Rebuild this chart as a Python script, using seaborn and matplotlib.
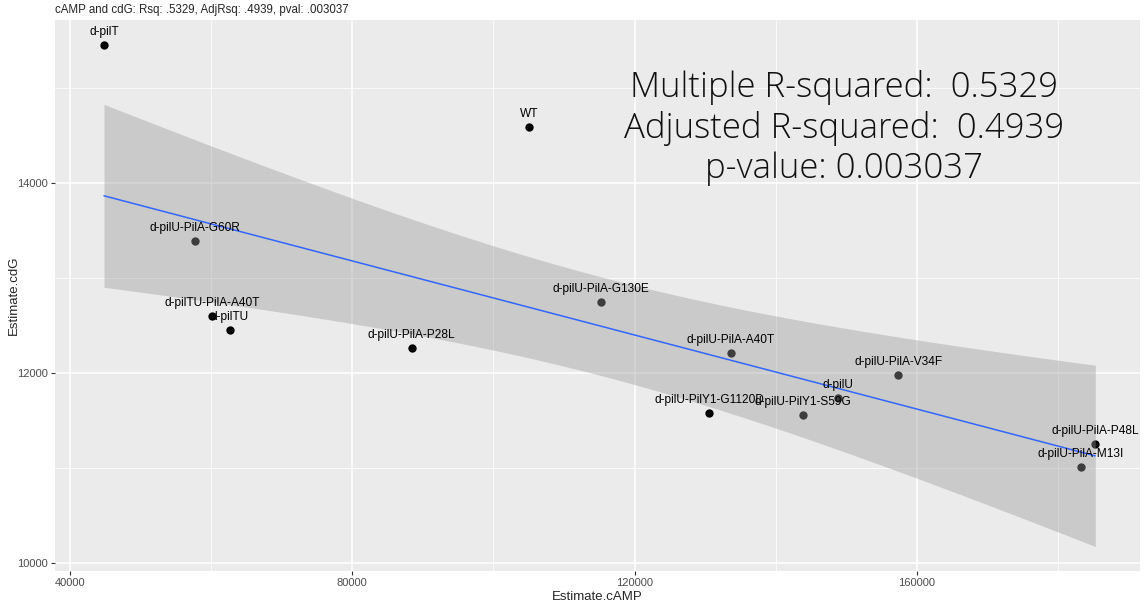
import numpy as np
import pandas as pd
import matplotlib
matplotlib.use("Agg")
import matplotlib.pyplot as plt
import seaborn as sns

# Strain-level estimates
strains = [
    "d-pilT", "WT", "d-pilU-PilA-G60R", "d-pilTU-PilA-A40T", "d-pilTU",
    "d-pilU-PilA-P28L", "d-pilU-PilA-G130E", "d-pilU-PilA-A40T",
    "d-pilU-PilA-V34F", "d-pilU", "d-pilU-PilY1-S59G", "d-pilU-PilY1-G1120D",
    "d-pilU-PilA-P48L", "d-pilU-PilA-M13I",
]
camp = [44805, 105046, 57704, 60156, 62665, 88420, 115293, 133679,
        157364, 148802, 143925, 130603, 185315, 183287]
cdg = [15456, 14596, 13393, 12606, 12453, 12269, 12747, 12217,
       11979, 11743, 11558, 11585, 11259, 11014]

title = "cAMP and cdG: Rsq: .5329, AdjRsq: .4939, pval: .003037"
stats_lines = ["Multiple R-squared:  0.5329",
               "Adjusted R-squared:  0.4939",
               "p-value: 0.003037"]
x_ticks = [40000, 80000, 120000, 160000]
y_ticks = [10000, 12000, 14000]

df = pd.DataFrame({"strain": strains, "Estimate.cAMP": camp, "Estimate.cdG": cdg})

sns.set_theme(style="darkgrid", rc={
    "axes.facecolor": "#EBEBEB",
    "grid.color": "white",
    "axes.edgecolor": "#EBEBEB",
})
plt.rcParams["font.family"] = ["Liberation Sans", "DejaVu Sans"]

W, H = 1144, 605
fig = plt.figure(figsize=(W / 100, H / 100), dpi=100)
ax = fig.add_axes([55 / W, 1 - 571 / H, (1140 - 55) / W, (571 - 20) / H])

# points first; the confidence band is laid over them
sns.scatterplot(data=df, x="Estimate.cAMP", y="Estimate.cdG", color="black",
                s=36, linewidth=0, ax=ax, zorder=2, legend=False)

# ordinary least squares fit with 95% confidence band
x = df["Estimate.cAMP"].to_numpy(float)
y = df["Estimate.cdG"].to_numpy(float)
n = len(x)
slope, intercept = np.polyfit(x, y, 1)
xs = np.linspace(x.min(), x.max(), 80)
fit = intercept + slope * xs
resid = y - (intercept + slope * x)
s_err = np.sqrt(np.sum(resid ** 2) / (n - 2))
sxx = np.sum((x - x.mean()) ** 2)
se = s_err * np.sqrt(1 / n + (xs - x.mean()) ** 2 / sxx)
t_crit = 2.178813  # t quantile 0.975, 12 df
ax.fill_between(xs, fit - t_crit * se, fit + t_crit * se,
                color="#999999", alpha=0.4, linewidth=0, zorder=3)
sns.regplot(data=df, x="Estimate.cAMP", y="Estimate.cdG", scatter=False,
            ci=None, color="#3366FF", line_kws={"lw": 1.1, "zorder": 4}, ax=ax)

for name, xv, yv in zip(strains, camp, cdg):
    ax.annotate(name, (xv, yv), xytext=(0, 13), textcoords="offset pixels",
                ha="center", va="center", fontsize=8.6, color="black", zorder=5)

ax.set_xlim(37860, 191650)
ax.set_ylim(9919, 15719)
ax.set_xticks(x_ticks)
ax.set_xticklabels([str(v) for v in x_ticks])
ax.set_yticks(y_ticks)
ax.set_yticklabels([str(v) for v in y_ticks])
ax.set_xticks([60000, 100000, 140000, 180000], minor=True)
ax.set_yticks([11000, 13000, 15000], minor=True)
ax.grid(which="major", color="white", linewidth=1.1)
ax.grid(which="minor", color="white", linewidth=0.55)
ax.tick_params(which="major", length=3, width=0.8, color="#333333",
               labelcolor="#4D4D4D", labelsize=8, pad=2,
               bottom=True, left=True)
ax.tick_params(which="minor", length=0)
for sp in ax.spines.values():
    sp.set_visible(False)

ax.set_xlabel("Estimate.cAMP", fontsize=9.5, labelpad=2)
ax.set_ylabel("Estimate.cdG", fontsize=9.5, labelpad=-2)

fig.text(55 / W, 1 - 10 / H, title, fontsize=8.3, va="center", ha="left")

baselines = [96.7, 138.3, 178.3]
for line, b in zip(stats_lines, baselines):
    fig.text(844 / W, 1 - b / H, line, ha="center", va="baseline",
             fontsize=25, family=["Open Sans", "DejaVu Sans"],
             fontweight="light", color="#111111")

fig.savefig("out.png", dpi=100)
